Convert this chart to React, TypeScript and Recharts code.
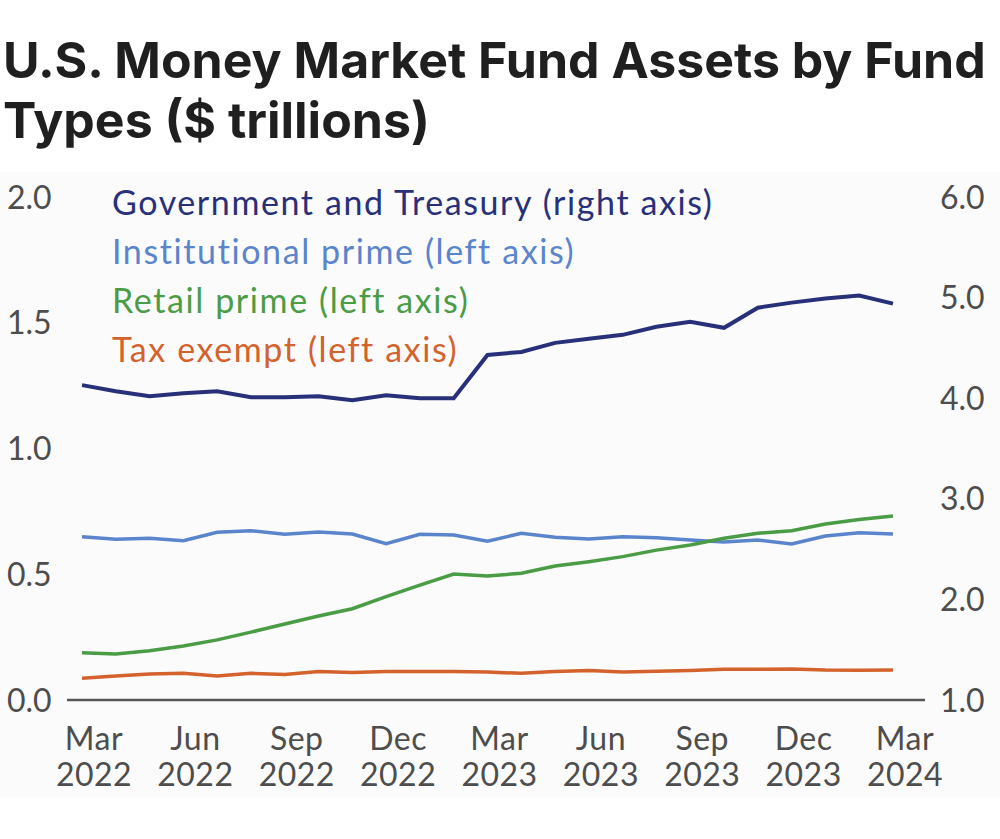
import React from "react";
import { LineChart, Line, XAxis, YAxis } from "recharts";

// monthly, Mar 2022 .. Mar 2024
const months = [
  "Mar 2022", "Apr 2022", "May 2022", "Jun 2022", "Jul 2022", "Aug 2022", "Sep 2022",
  "Oct 2022", "Nov 2022", "Dec 2022", "Jan 2023", "Feb 2023", "Mar 2023", "Apr 2023",
  "May 2023", "Jun 2023", "Jul 2023", "Aug 2023", "Sep 2023", "Oct 2023", "Nov 2023",
  "Dec 2023", "Jan 2024", "Feb 2024", "Mar 2024",
];

// right axis
const govTreasury = [
  4.13, 4.07, 4.02, 4.05, 4.07, 4.01, 4.01, 4.02, 3.98, 4.03, 4.0, 4.0, 4.43,
  4.46, 4.55, 4.59, 4.63, 4.71, 4.76, 4.7, 4.9, 4.95, 4.99, 5.02, 4.94,
];

// left axis
const institutionalPrime = [
  0.649, 0.639, 0.643, 0.633, 0.667, 0.673, 0.659, 0.668, 0.66, 0.622, 0.659, 0.656, 0.631,
  0.663, 0.647, 0.64, 0.649, 0.645, 0.636, 0.628, 0.636, 0.62, 0.652, 0.665, 0.66,
];

const retailPrime = [
  0.188, 0.183, 0.196, 0.215, 0.239, 0.27, 0.302, 0.334, 0.363, 0.411, 0.457, 0.501, 0.493,
  0.504, 0.533, 0.55, 0.57, 0.596, 0.616, 0.643, 0.663, 0.673, 0.7, 0.718, 0.732,
];

const taxExempt = [
  0.086, 0.095, 0.103, 0.106, 0.095, 0.106, 0.101, 0.113, 0.109, 0.113, 0.113, 0.113, 0.111,
  0.106, 0.113, 0.117, 0.111, 0.114, 0.117, 0.122, 0.122, 0.123, 0.119, 0.118, 0.119,
];

const xTicks = [
  "Mar 2022", "Jun 2022", "Sep 2022", "Dec 2022", "Mar 2023",
  "Jun 2023", "Sep 2023", "Dec 2023", "Mar 2024",
];
const leftTicks = [0, 0.5, 1, 1.5, 2];
const rightTicks = [1, 2, 3, 4, 5, 6];

const series = [
  { key: "gov", name: "Government and Treasury (right axis)", color: "#28307a", axis: "right", width: 4 },
  { key: "inst", name: "Institutional prime (left axis)", color: "#5a84cb", axis: "left", width: 3.5 },
  { key: "retail", name: "Retail prime (left axis)", color: "#4a9c45", axis: "left", width: 3.5 },
  { key: "tax", name: "Tax exempt (left axis)", color: "#d4622c", axis: "left", width: 3.5 },
];

const data = months.map((m, i) => ({
  month: m,
  gov: govTreasury[i],
  inst: institutionalPrime[i],
  retail: retailPrime[i],
  tax: taxExempt[i],
}));

const FONT = "Lato, 'Noto Sans', sans-serif";
const TICK_COLOR = "#4d4d4d";

const MonthTick = ({ x, y, payload }: any) => {
  const [mon, yr] = String(payload.value).split(" ");
  return (
    <text x={x + 12} y={y} textAnchor="middle" fill={TICK_COLOR} fontSize={32} fontFamily={FONT} letterSpacing={0.5}>
      <tspan x={x + 12} dy={50}>{mon}</tspan>
      <tspan x={x + 12} dy={36}>{yr}</tspan>
    </text>
  );
};

const LeftTick = ({ x, y, payload }: any) => (
  <text x={x - 60} y={y} dy="0.36em" textAnchor="start" fill={TICK_COLOR} fontSize={32} fontFamily={FONT}>
    {Number(payload.value).toFixed(1)}
  </text>
);

const RightTick = ({ x, y, payload }: any) => (
  <text x={x + 15} y={y} dy="0.36em" textAnchor="start" fill={TICK_COLOR} fontSize={32} fontFamily={FONT}>
    {Number(payload.value).toFixed(1)}
  </text>
);

export default function App() {
  return (
    <div style={{ position: "absolute", left: 0, top: 0, width: 1000, height: 839, background: "#fff" }}>
      <div
        style={{
          position: "absolute",
          left: 3,
          top: 30,
          fontFamily: "Inter, Roboto, sans-serif",
          fontWeight: 700,
          fontSize: 50,
          lineHeight: "60px",
          color: "#1f1f1f",
          letterSpacing: 0,
          whiteSpace: "nowrap",
        }}
      >
        U.S. Money Market Fund Assets by Fund
        <br />
        Types ($ trillions)
      </div>
      <div style={{ position: "absolute", left: 0, top: 172, width: 1000, height: 625, background: "#fbfbfc" }} />
      <div style={{ position: "absolute", left: 0, top: 0 }}>
        <LineChart width={1000} height={839} data={data} margin={{ top: 197, right: 0, bottom: 39, left: 0 }}>
          <XAxis
            dataKey="month"
            ticks={xTicks}
            interval={0}
            tick={<MonthTick />}
            tickLine={false}
            tickSize={0}
            tickMargin={0}
            height={100}
            padding={{ left: 15, right: 32 }}
            axisLine={{ stroke: "#555", strokeWidth: 2.5 }}
          />
          <YAxis
            yAxisId="left"
            orientation="left"
            domain={[0, 2]}
            ticks={leftTicks}
            width={67}
            axisLine={false}
            tickLine={false}
            tickSize={0}
            tickMargin={0}
            tick={<LeftTick />}
          />
          <YAxis
            yAxisId="right"
            orientation="right"
            domain={[1, 6]}
            ticks={rightTicks}
            width={75}
            axisLine={false}
            tickLine={false}
            tickSize={0}
            tickMargin={0}
            tick={<RightTick />}
          />
          {series.map((s) => (
            <Line
              key={s.key}
              yAxisId={s.axis}
              type="linear"
              dataKey={s.key}
              name={s.name}
              stroke={s.color}
              strokeWidth={s.width}
              dot={false}
              isAnimationActive={false}
            />
          ))}
          {series.map((s, i) => (
            <text
              key={`lg-${s.key}`}
              x={112}
              y={215 + i * 49}
              fill={s.color}
              fontSize={34}
              fontFamily={FONT}
              letterSpacing={1.6}
            >
              {s.name}
            </text>
          ))}
        </LineChart>
      </div>
    </div>
  );
}
